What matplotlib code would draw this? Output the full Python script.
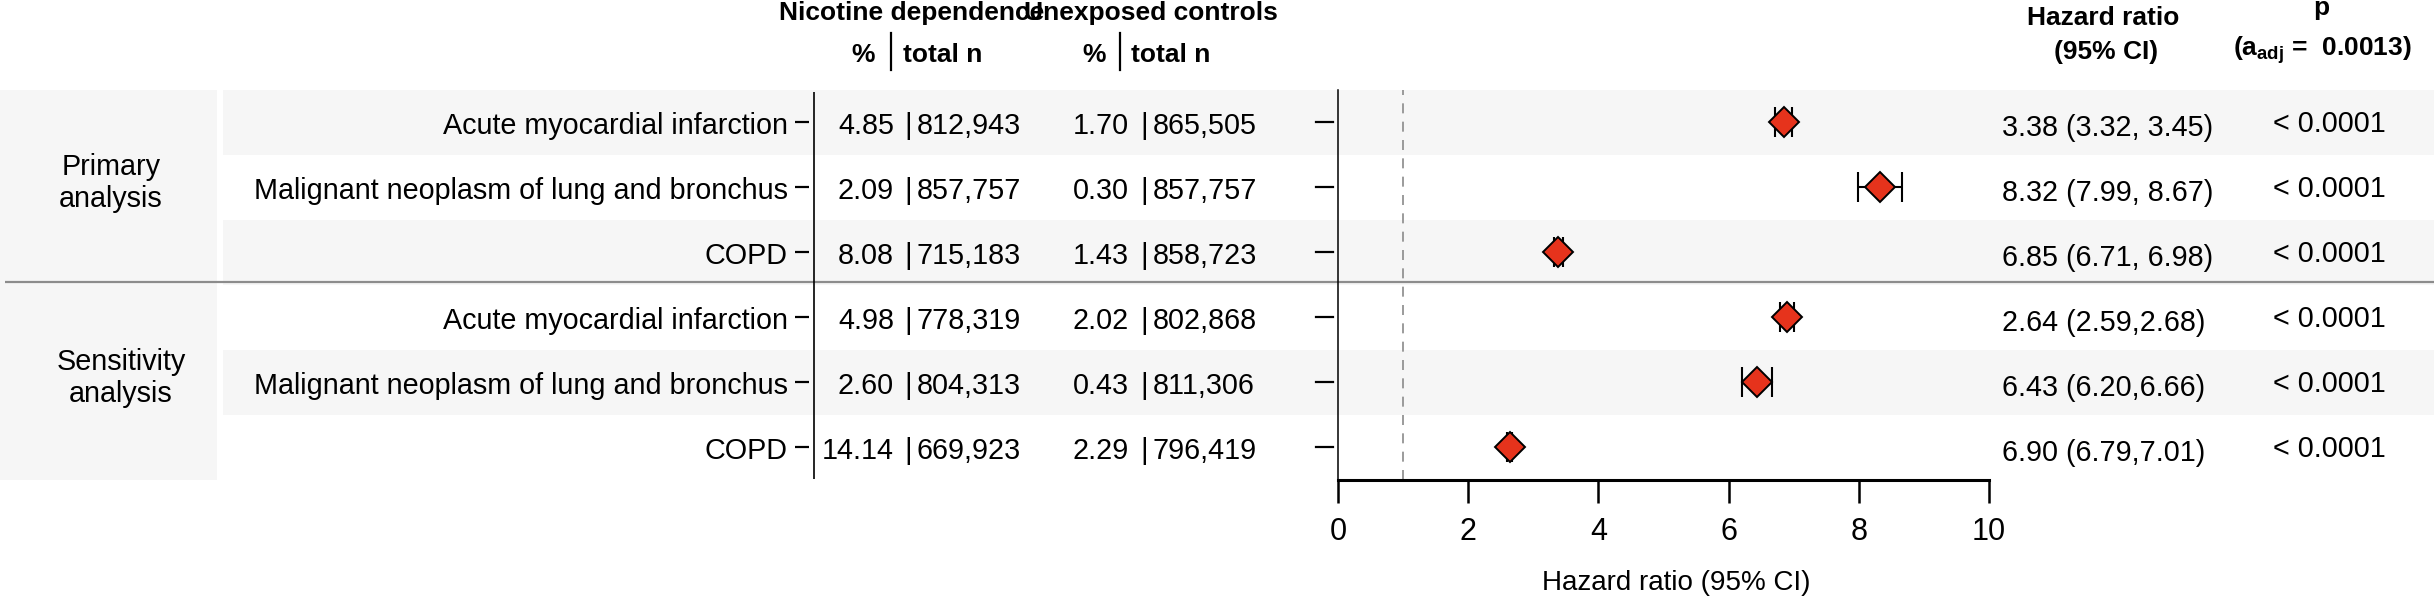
import matplotlib
matplotlib.use("Agg")
import matplotlib.pyplot as plt
from matplotlib.patches import Rectangle
from matplotlib.transforms import offset_copy, blended_transform_factory

plt.rcParams['font.family'] = ['Liberation Sans', 'DejaVu Sans']
plt.rcParams['mathtext.fontset'] = 'custom'
plt.rcParams['mathtext.rm'] = 'Liberation Sans'
plt.rcParams['mathtext.it'] = 'Liberation Sans:italic'
plt.rcParams['mathtext.bf'] = 'Liberation Sans:bold'

# ---------------- data ----------------
groups = ["Primary\nanalysis", "Sensitivity\nanalysis"]
outcomes = ["Acute myocardial infarction", "Malignant neoplasm of lung and bronchus", "COPD",
            "Acute myocardial infarction", "Malignant neoplasm of lung and bronchus", "COPD"]
nd_pct = ["4.85", "2.09", "8.08", "4.98", "2.60", "14.14"]
nd_n = ["812,943", "857,757", "715,183", "778,319", "804,313", "669,923"]
ctl_pct = ["1.70", "0.30", "1.43", "2.02", "0.43", "2.29"]
ctl_n = ["865,505", "857,757", "858,723", "802,868", "811,306", "796,419"]
hr_text = ["3.38 (3.32, 3.45)", "8.32 (7.99, 8.67)", "6.85 (6.71, 6.98)",
           "2.64 (2.59,2.68)", "6.43 (6.20,6.66)", "6.90 (6.79,7.01)"]
p_text = ["< 0.0001"] * 6
# plotted estimates (as drawn in the figure)
hr_plot = [6.85, 8.32, 3.38, 6.90, 6.43, 2.64]
hr_lo = [6.71, 7.99, 3.32, 6.79, 6.20, 2.59]
hr_hi = [6.98, 8.67, 3.45, 7.01, 6.66, 2.68]
x_ticks = [0, 2, 4, 6, 8, 10]

# ---------------- layout ----------------
W, H = 2434, 600
fig = plt.figure(figsize=(W / 100, H / 100), dpi=100)
fig.patch.set_facecolor('white')
top_px, bot_px = 90, 480
band_col = '#f6f6f6'
fs = 20.7
hfs = 19

ax_bg = fig.add_axes([0, 0, 1, 1])
ax_bg.set_xlim(0, W)
ax_bg.set_ylim(H, 0)
ax_bg.axis('off')

ax_t = fig.add_axes([0, (H - bot_px) / H, 1, (bot_px - top_px) / H])
ax_t.set_xlim(0, W)
ax_t.set_ylim(5.5, -0.5)
ax_t.axis('off')
ax_t.patch.set_alpha(0)

rows = list(range(len(outcomes)))

# bands
ax_t.add_patch(Rectangle((0, -0.5), 217, 6, facecolor=band_col, edgecolor='none', zorder=0))
for i in rows:
    if i % 2 == 0:
        ax_t.add_patch(Rectangle((223, i - 0.5), W - 223, 1, facecolor=band_col,
                                 edgecolor='none', zorder=0))
ax_t.hlines(2.45, 5, W, color='#8c8c8c', lw=1.6, zorder=1)

# label axis line + ticks
ax_t.vlines(814, -0.47, 5.48, color='black', lw=1.2, zorder=2)
ax_t.hlines(rows, 795, 809, color='black', lw=1.6, zorder=2)

tr_lab = offset_copy(ax_t.transData, fig=fig, x=0, y=-12, units='dots')
tr_hr = offset_copy(ax_t.transData, fig=fig, x=0, y=-14, units='dots')
tr_p = offset_copy(ax_t.transData, fig=fig, x=0, y=-10, units='dots')

for i in rows:
    ax_t.text(788, i, outcomes[i], ha='right', va='baseline', fontsize=fs, transform=tr_lab)
    ax_t.text(894, i, nd_pct[i], ha='right', va='baseline', fontsize=fs, transform=tr_lab)
    ax_t.text(908, i, "|", ha='center', va='baseline', fontsize=fs, transform=tr_lab)
    ax_t.text(917, i, nd_n[i], ha='left', va='baseline', fontsize=fs, transform=tr_lab)
    ax_t.text(1129, i, ctl_pct[i], ha='right', va='baseline', fontsize=fs, transform=tr_lab)
    ax_t.text(1144, i, "|", ha='center', va='baseline', fontsize=fs, transform=tr_lab)
    ax_t.text(1153, i, ctl_n[i], ha='left', va='baseline', fontsize=fs, transform=tr_lab)
    ax_t.text(2002, i, hr_text[i], ha='left', va='baseline', fontsize=fs, transform=tr_hr)
    ax_t.text(2273, i, p_text[i], ha='left', va='baseline', fontsize=fs, transform=tr_p)

group_x = [111, 121]
for g, label in enumerate(groups):
    yc = (3 * g + 3 * g + 2) / 2 - 0.07
    ax_t.text(group_x[g], yc, label, ha='center', va='center', fontsize=fs,
              linespacing=1.18)

# ---------------- forest ----------------
ax_f = fig.add_axes([1338 / W, (H - bot_px) / H, (1989 - 1338) / W, (bot_px - top_px) / H])
ax_f.patch.set_alpha(0)
ax_f.set_xlim(0, 10)
ax_f.set_ylim(5.5, -0.5)
for s in ['top', 'right']:
    ax_f.spines[s].set_visible(False)
ax_f.spines['left'].set_linewidth(1.1)
ax_f.spines['bottom'].set_linewidth(2.2)
ax_f.set_xticks(x_ticks)
ax_f.set_xticklabels([str(t) for t in x_ticks],
                     fontfamily=['Liberation Sans Narrow', 'Liberation Sans', 'DejaVu Sans'])
ax_f.tick_params(axis='x', length=16.5, width=1.8, labelsize=22, pad=10)
ax_f.set_yticks([])
# y ticks drawn with a small gap from the spine
tr_yt = blended_transform_factory(ax_f.transAxes, ax_f.transData)
for i in rows:
    ax_f.plot([-0.034, -0.007], [i, i], color='black', lw=1.6, transform=tr_yt, clip_on=False)
ax_f.axvline(1, color='#8a8a8a', lw=1.2, dashes=(6, 5), zorder=1)

xerr = [[h - l for h, l in zip(hr_plot, hr_lo)], [u - h for h, u in zip(hr_plot, hr_hi)]]
ax_f.errorbar(hr_plot, rows, xerr=xerr, fmt='none', ecolor='black', elinewidth=1.5,
              capsize=10.5, capthick=1.5, zorder=2)
ax_f.plot(hr_plot, rows, 'D', ms=15, markerfacecolor='#e6331c', markeredgecolor='black',
          markeredgewidth=1.4, linestyle='none', zorder=3)

ax_bg.text(1676, 583, "Hazard ratio (95% CI)", ha='center', va='center', fontsize=20)

# ---------------- headers ----------------
ax_bg.text(912, 20, "Nicotine dependence", ha='center', va='baseline', fontsize=hfs, fontweight='bold')
ax_bg.text(1151, 20, "Unexposed controls", ha='center', va='baseline', fontsize=hfs, fontweight='bold')
for pc_x, bar_x, tn_x in [(863, 891, 903), (1094, 1120, 1131)]:
    ax_bg.text(pc_x, 62, "%", ha='center', va='baseline', fontsize=hfs, fontweight='bold')
    ax_bg.plot([bar_x, bar_x], [33, 70], color='black', lw=1.6)
    ax_bg.text(tn_x, 62, "total n", ha='left', va='baseline', fontsize=hfs, fontweight='bold')
ax_bg.text(2103, 25, "Hazard ratio", ha='center', va='baseline', fontsize=hfs, fontweight='bold')
ax_bg.text(2106, 59, "(95% CI)", ha='center', va='baseline', fontsize=hfs, fontweight='bold')
ax_bg.text(2321, 15, "p", ha='center', va='baseline', fontsize=hfs, fontweight='bold')
ax_bg.text(2322, 56, r"(a$_{\mathbf{adj}}$ =  0.0013)", ha='center', va='baseline',
           fontsize=hfs, fontweight='bold')

fig.savefig("out.png", dpi=100, facecolor='white')
